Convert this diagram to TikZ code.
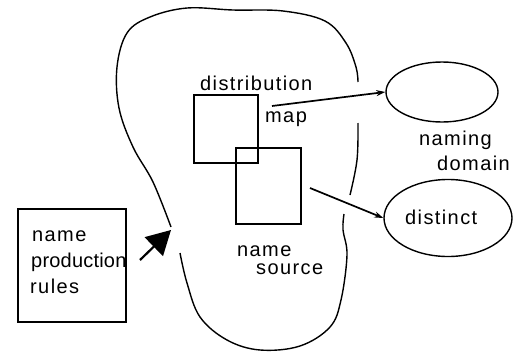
\documentclass[tikz,border=0pt]{standalone}
\usepackage{fontspec}
\setmainfont[LetterSpace=7]{Liberation Sans}
\usetikzlibrary{shapes.geometric,arrows.meta}
\begin{document}
\begin{tikzpicture}[x=1pt,y=-1pt,
  line/.style={line width=1.4pt},
  box/.style={draw,line width=1.4pt,inner sep=0pt},
  oval/.style={draw,ellipse,line width=1.4pt,inner sep=0pt},
  lbl/.style={font=\fontsize{20}{22}\selectfont,inner sep=0pt,anchor=west},
  conn/.style={line width=1.7pt,-{Stealth[length=9pt,width=6pt]}}]
\useasboundingbox (0,0) rectangle (523,354);
% blob
\draw[line] plot[smooth,tension=0.6] coordinates {(171,227) (153,182) (133,147) (119,108) (117,67) (127,33) (150,17) (187,8) (233,10) (283,11) (325,21) (346,43) (356,67) (358,82)};
\draw[line] plot[smooth,tension=0.6] coordinates {(358,123) (357,160) (350,195)};
\draw[line] plot[smooth,tension=0.6] coordinates {(344,214) (343,230) (347,255) (341,300) (330,327) (300,346) (260,350) (227,340) (200,317) (187,283) (180,253)};
% boxes
\node[box,minimum width=64pt,minimum height=68pt] (dist) at (226,129) {};
\node[box,minimum width=65pt,minimum height=76pt] (src) at (268.5,186) {};
\node[box,minimum width=108pt,minimum height=113pt] (rules) at (72,265.5) {};
% ellipses
\node[oval,minimum width=112pt,minimum height=60pt] (dom) at (442,92) {};
\node[oval,minimum width=128pt,minimum height=77pt] (dis) at (448,218) {};
% labels
\node[lbl] (tdist) at (200,83) {distribution};
\node[lbl] (tmap) at (265,119) {map};
\node[lbl] (tnaming) at (419,140) {naming};
\node[lbl] (tdomain) at (437,163) {domain};
\node[lbl] (tdistinct) at (405,217) {distinct};
\node[lbl] (tname) at (237,251) {name};
\node[lbl] (tsource) at (256,269) {source};
\node[lbl] (tname2) at (32,236) {name};
\node[lbl] (tprod) at (31,262) {\addfontfeature{LetterSpace=1}production};
\node[lbl] (trules) at (30,286) {rules};
% connectors
\coordinate (a1) at (272,106);
\coordinate (a2) at (310,188);
\coordinate (b0) at (140,260);
\coordinate (b1) at (171,230);
\draw[conn] (a1) -- (dom.west);
\draw[conn] (a2) -- (dis.west);
\draw[line width=2.2pt,-{Triangle[length=24pt,width=26pt]}] (b0) -- (b1);
\end{tikzpicture}
\end{document}
